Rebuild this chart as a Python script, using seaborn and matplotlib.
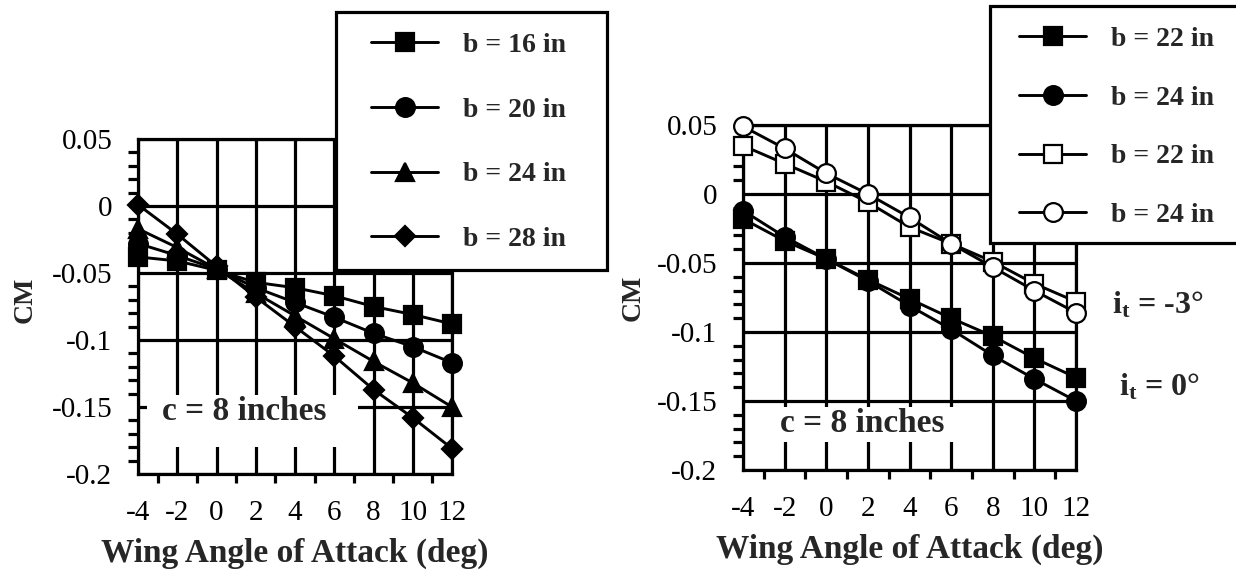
import numpy as np
import pandas as pd
import seaborn as sns
import matplotlib
matplotlib.use("Agg")
import matplotlib.pyplot as plt
from matplotlib.patches import Rectangle
from matplotlib.ticker import MultipleLocator

# ---- data -------------------------------------------------------------
angles = [-4, -2, 0, 2, 4, 6, 8, 10, 12]

left_labels = ["b = 16 in", "b = 20 in", "b = 24 in", "b = 28 in"]
cm_b16 = [-0.038, -0.041, -0.048, -0.057, -0.061, -0.067, -0.075, -0.081, -0.088]
cm_b20 = [-0.028, -0.037, -0.047, -0.061, -0.072, -0.083, -0.095, -0.105, -0.117]
cm_b24 = [-0.017, -0.031, -0.047, -0.065, -0.082, -0.099, -0.116, -0.132, -0.150]
cm_b28 = [0.001, -0.021, -0.045, -0.068, -0.090, -0.112, -0.137, -0.158, -0.181]

right_labels = ["b = 22 in", "b = 24 in", "b = 22 in", "b = 24 in"]
cm_b22_it0 = [-0.018, -0.034, -0.047, -0.062, -0.076, -0.090, -0.103, -0.119, -0.133]
cm_b24_it0 = [-0.012, -0.031, -0.047, -0.063, -0.081, -0.098, -0.117, -0.134, -0.150]
cm_b22_itm3 = [0.035, 0.022, 0.009, -0.006, -0.024, -0.036, -0.049, -0.065, -0.078]
cm_b24_itm3 = [0.049, 0.033, 0.015, 0.000, -0.017, -0.036, -0.053, -0.070, -0.086]

x_ticks = [-4, -2, 0, 2, 4, 6, 8, 10, 12]
x_tick_labels = ["-4", "-2", "0", "2", "4", "6", "8", "10", "12"]
y_ticks = [0.05, 0.0, -0.05, -0.1, -0.15, -0.2]
y_tick_labels = ["0.05", "0", "-0.05", "-0.1", "-0.15", "-0.2"]

# ---- style ------------------------------------------------------------
sns.set_style("white")
plt.rcParams["font.family"] = ["Liberation Serif", "DejaVu Serif"]
plt.rcParams["mathtext.fontset"] = "custom"
plt.rcParams["mathtext.rm"] = "Liberation Serif"
plt.rcParams["mathtext.bf"] = "Liberation Serif:bold"
plt.rcParams["mathtext.it"] = "Liberation Serif:italic"
plt.rcParams["axes.unicode_minus"] = False

W, H = 1236, 574
fig = plt.figure(figsize=(W / 100, H / 100), dpi=100)
fig.patch.set_facecolor("white")


def px_box(x0, y0, x1, y1):
    return [x0 / W, 1 - y1 / H, (x1 - x0) / W, (y1 - y0) / H]


ax1 = fig.add_axes(px_box(138, 139, 452, 474))
ax2 = fig.add_axes(px_box(743, 125, 1076, 470))

LW = 2.3


def draw_series(ax, values, marker, ms, filled):
    df = pd.DataFrame({"angle": angles, "cm": values})
    sns.lineplot(data=df, x="angle", y="cm", ax=ax, color="black",
                 linewidth=2.1, marker=marker, markersize=ms,
                 markerfacecolor="black" if filled else "white",
                 markeredgecolor="black", markeredgewidth=1.6,
                 clip_on=False, zorder=4)


draw_series(ax1, cm_b16, "s", 12.5, True)
draw_series(ax1, cm_b20, "o", 13.5, True)
draw_series(ax1, cm_b24, "^", 13, True)
draw_series(ax1, cm_b28, "D", 10, True)

draw_series(ax2, cm_b22_it0, "s", 12.5, True)
draw_series(ax2, cm_b24_it0, "o", 13.5, True)
draw_series(ax2, cm_b22_itm3, "s", 12.5, False)
draw_series(ax2, cm_b24_itm3, "o", 13.5, False)

for ax in (ax1, ax2):
    ax.set_xlim(-4, 12)
    ax.set_ylim(-0.2, 0.05)
    ax.set_xticks(x_ticks, x_tick_labels)
    ax.set_yticks(y_ticks, y_tick_labels)
    ax.xaxis.set_minor_locator(MultipleLocator(1))
    ax.yaxis.set_minor_locator(MultipleLocator(0.01))
    ax.set_axisbelow(True)
    ax.grid(True, which="major", color="black", linewidth=LW)
    for sp in ax.spines.values():
        sp.set_visible(True)
        sp.set_color("black")
        sp.set_linewidth(LW)
    ax.tick_params(axis="both", which="major", direction="out", length=11.5,
                   width=LW, color="black", labelsize=21, labelcolor="black")
    ax.tick_params(axis="x", which="major", pad=7)
    ax.tick_params(axis="y", which="major", pad=7)
    ax.tick_params(axis="x", which="minor", direction="out", length=6.5,
                   width=LW, color="black", bottom=True)
    ax.tick_params(axis="y", which="minor", direction="out", length=7,
                   width=LW, color="black", left=True)
    ax.set_xlabel("Wing Angle of Attack (deg)", fontsize=24, fontweight="bold")
    ax.set_ylabel("CM", fontsize=20, fontweight="bold")
    ax.xaxis.label.set_va("center")
    ax.yaxis.label.set_va("center")

ax1.xaxis.set_label_coords(0.5, -(553 - 474) / 335)
ax2.xaxis.set_label_coords(0.5, -(549 - 470) / 345)
ax1.yaxis.set_label_coords(-(138 - 25) / 314, 0.52)
ax2.yaxis.set_label_coords(-(743 - 633) / 333, 0.5)

# chord annotation with a white patch behind it
ax1.add_patch(Rectangle((-3.55, -0.180), 10.75, 0.039, facecolor="white",
                        edgecolor="none", zorder=1.5))
ax1.text(1.43, -0.153, "c = 8 inches", ha="center", va="center",
         fontsize=24, fontweight="bold", zorder=3)
ax2.add_patch(Rectangle((-3.55, -0.180), 10.6, 0.026, facecolor="white",
                        edgecolor="none", zorder=1.5))
ax2.text(1.72, -0.166, "c = 8 inches", ha="center", va="center",
         fontsize=24, fontweight="bold", zorder=3)

# tail incidence labels
fig.text(1112 / W, 1 - 313 / H, r"$\mathbf{i}_{\mathbf{t}}$ = -3°",
         fontsize=23, fontweight="bold", ha="left", va="baseline")
fig.text(1119 / W, 1 - 395 / H, r"$\mathbf{i}_{\mathbf{t}}$ = 0°",
         fontsize=23, fontweight="bold", ha="left", va="baseline")

# legends inside white framed boxes
FS = 20
fs_px = FS / 0.72
ROW_H = 25.75      # rendered height of one legend row, px
ROW_TOP = 10.4     # offset of a row's centre below its top edge, px


def boxed_legend(ax, labels, box, handle_x0, first_row_y, pitch):
    x0, y0, x1, y1 = box
    fig.add_artist(Rectangle((x0 / W, 1 - y1 / H), (x1 - x0) / W, (y1 - y0) / H,
                             transform=fig.transFigure, facecolor="white",
                             edgecolor="black", linewidth=LW, zorder=3))
    leg = fig.legend(ax.get_lines(), labels, loc="upper left",
                     bbox_to_anchor=(handle_x0 / W, 1 - (first_row_y - ROW_TOP) / H),
                     frameon=False, borderpad=0, borderaxespad=0,
                     handlelength=67 / fs_px, handletextpad=25 / fs_px,
                     labelspacing=(pitch - ROW_H) / fs_px, numpoints=1,
                     prop={"weight": "bold", "size": FS})
    leg.set_zorder(5)
    return leg


boxed_legend(ax1, left_labels, (336, 12, 607, 270), 371, 43, 65)
boxed_legend(ax2, right_labels, (990, 6, 1262, 243), 1019, 37, 59)

fig.savefig("out.png", dpi=100, facecolor="white")
